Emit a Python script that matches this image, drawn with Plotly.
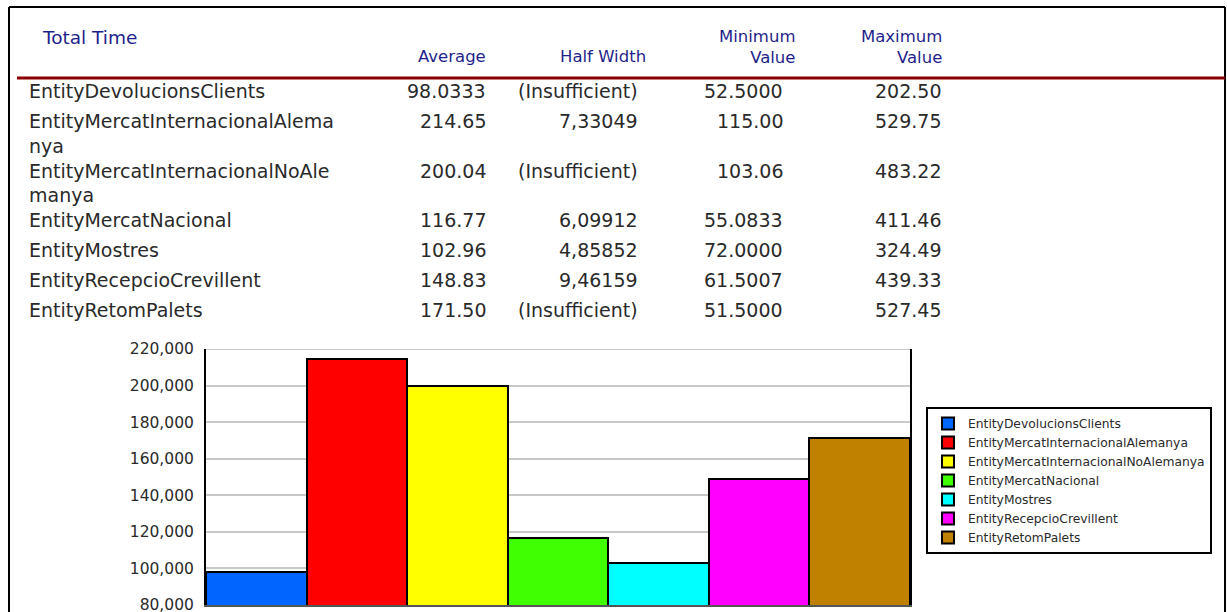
import plotly.graph_objects as go

# ---------------- data ----------------
entities = [
    "EntityDevolucionsClients",
    "EntityMercatInternacionalAlemanya",
    "EntityMercatInternacionalNoAlemanya",
    "EntityMercatNacional",
    "EntityMostres",
    "EntityRecepcioCrevillent",
    "EntityRetomPalets",
]
average = [98.0333, 214.65, 200.04, 116.77, 102.96, 148.83, 171.50]
half_width = [None, 7.33049, None, 6.09912, 4.85852, 9.46159, None]
minimum = [52.5000, 115.00, 103.06, 55.0833, 72.0000, 61.5007, 51.5000]
maximum = [202.50, 529.75, 483.22, 411.46, 324.49, 439.33, 527.45]
bar_colors = ["#0066ff", "#ff0000", "#ffff00", "#40ff00", "#00ffff", "#ff00ff", "#c08000"]
y_tick_vals = [80, 100, 120, 140, 160, 180, 200, 220]
y_tick_text = ["80,000", "100,000", "120,000", "140,000", "160,000", "180,000", "200,000", "220,000"]
table_title = "Total Time"
column_headers = ["Average", "Half Width", "Minimum<br>Value", "Maximum<br>Value"]

# ---------------- helpers ----------------
W, H = 1227, 612
FONT = "DejaVu Sans"
TXT = "#2a2a2a"
NAVY = "#1f1f8c"


def px(x):
    return x / W


def py(y):
    return 1 - y / H


def fmt_val(v):
    return f"{v:.4f}" if v < 100 else f"{v:.2f}"


def fmt_hw(v):
    return "(Insufficient)" if v is None else f"{v:.5f}".replace(".", ",")


def wrap(name, n=30):
    return [name[i:i + n] for i in range(0, len(name), n)]


fig = go.Figure()

for name, val, col in zip(entities, average, bar_colors):
    fig.add_trace(go.Bar(
        x=[name], y=[val], name=name,
        marker=dict(color=col, line=dict(color="black", width=2)),
        hoverinfo="x+y",
    ))

annotations = []
# table header
annotations.append(dict(text=table_title, x=px(40), y=py(37), xanchor="left", yanchor="middle",
                        font=dict(family=FONT, size=18.5, color=NAVY)))
hdr_right = [488, 648, 797, 944]
hdr_y = [56, 56, 47.5, 47.5]
for t, xr, yy in zip(column_headers, hdr_right, hdr_y):
    annotations.append(dict(text=t, x=px(xr), y=py(yy), xanchor="right", yanchor="middle",
                            align="right", font=dict(family=FONT, size=16.5, color=NAVY)))

# table rows
row_y = 91
col_right = [488, 640, 785, 943]
for i, name in enumerate(entities):
    lines = wrap(name)
    for k, ln in enumerate(lines):
        annotations.append(dict(text=ln, x=px(27), y=py(row_y + k * 25), xanchor="left", yanchor="middle",
                                font=dict(family=FONT, size=19, color=TXT)))
    vals = [fmt_val(average[i]), fmt_hw(half_width[i]), fmt_val(minimum[i]), fmt_val(maximum[i])]
    for t, xr in zip(vals, col_right):
        annotations.append(dict(text=t, x=px(xr), y=py(row_y), xanchor="right", yanchor="middle",
                                font=dict(family=FONT, size=19, color=TXT)))
    row_y += 30 if len(lines) == 1 else 49.5

for a in annotations:
    a.update(xref="paper", yref="paper", showarrow=False)

shapes = [
    # outer frame
    dict(type="line", xref="paper", yref="paper", x0=px(9), x1=px(1225), y0=py(7), y1=py(7),
         line=dict(color="black", width=2)),
    dict(type="line", xref="paper", yref="paper", x0=px(9), x1=px(9), y0=py(7), y1=py(615),
         line=dict(color="black", width=2)),
    dict(type="line", xref="paper", yref="paper", x0=px(1225), x1=px(1225), y0=py(7), y1=py(615),
         line=dict(color="black", width=2)),
    # red rule under header
    dict(type="line", xref="paper", yref="paper", x0=px(17), x1=px(1225), y0=py(78), y1=py(78),
         line=dict(color="#8b0000", width=3)),
    # top gridline of chart
    dict(type="line", xref="x domain", yref="y", x0=0, x1=1, y0=220, y1=220,
         line=dict(color="#c8c8c8", width=2), layer="below"),
]

fig.update_layout(
    width=W, height=H, autosize=False,
    margin=dict(l=0, r=0, t=0, b=0, pad=0, autoexpand=False),
    paper_bgcolor="white", plot_bgcolor="white",
    barmode="overlay", bargap=0,
    showlegend=True,
    legend=dict(
        x=px(926), y=py(407), xanchor="left", yanchor="top",
        bordercolor="black", borderwidth=2, bgcolor="white",
        font=dict(family=FONT, size=12.3, color=TXT),
        tracegroupgap=0, traceorder="normal",
    ),
    xaxis=dict(
        domain=[px(206), px(910)], type="category", automargin=False,
        showticklabels=False, ticks="", showgrid=False,
        showline=True, linecolor="#555555", linewidth=2, zeroline=False,
    ),
    yaxis=dict(
        domain=[py(605), py(349)], range=[80, 220], automargin=False,
        tickvals=y_tick_vals, ticktext=y_tick_text, ticklabeloverflow="allow",
        showline=True, linecolor="black", linewidth=2, mirror=True,
        showgrid=True, gridcolor="#c8c8c8", gridwidth=2, zeroline=False,
        ticks="", ticklabelstandoff=7,
        tickfont=dict(family=FONT, size=15.5, color=TXT),
    ),
    annotations=annotations,
    shapes=shapes,
)

fig.write_html("out.html")
